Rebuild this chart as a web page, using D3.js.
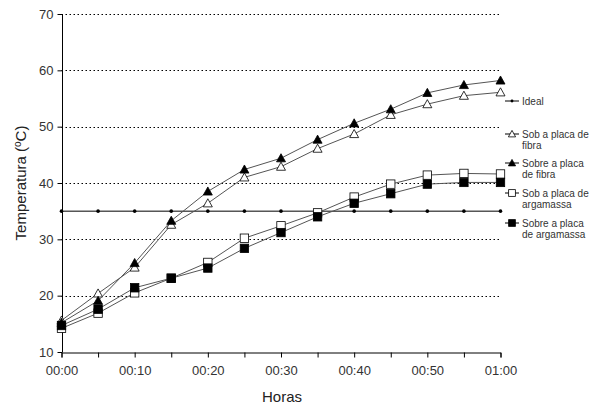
<!DOCTYPE html>
<html>
<head>
<meta charset="utf-8">
<script src="https://cdn.jsdelivr.net/npm/d3@7"></script>
<style>
  body { margin: 0; background: #fff; }
  text { font-family: Arial, "Liberation Sans", sans-serif; }
</style>
</head>
<body>
<div id="chart"></div>
<script>
// times in minutes, labelled hh:mm
var minutes = [0, 5, 10, 15, 20, 25, 30, 35, 40, 45, 50, 55, 60];
var tickMinutes = [0, 10, 20, 30, 40, 50, 60];
var yTicks = [10, 20, 30, 40, 50, 60, 70];

var ideal = [35, 35, 35, 35, 35, 35, 35, 35, 35, 35, 35, 35, 35];
var sobFibra = [15.6, 20.4, 25.0, 32.6, 36.4, 41.0, 42.9, 46.1, 48.7, 52.1, 54.0, 55.5, 56.1];
var sobreFibra = [15.2, 19.1, 25.8, 33.3, 38.5, 42.4, 44.4, 47.7, 50.6, 53.1, 56.0, 57.4, 58.2];
var sobArgamassa = [14.2, 16.9, 20.5, 23.1, 25.9, 30.2, 32.4, 34.7, 37.5, 39.8, 41.4, 41.7, 41.6];
var sobreArgamassa = [14.7, 17.6, 21.4, 23.1, 24.9, 28.4, 31.2, 34.0, 36.4, 38.1, 39.8, 40.1, 40.1];

var seriesNames = ["Ideal", "Sob a placa de fibra", "Sobre a placa de fibra", "Sob a placa de argamassa", "Sobre a placa de argamassa"];
var legendLines = [["Ideal"], ["Sob a placa de", "fibra"], ["Sobre a placa", "de fibra"], ["Sob a placa de", "argamassa"], ["Sobre a placa", "de argamassa"]];

var width = 600, height = 410;
var margin = {left: 61.5, right: 99.5, top: 14, bottom: 58};

var series = [
    {name: seriesNames[0], values: ideal, marker: "dot"},
    {name: seriesNames[1], values: sobFibra, marker: "triOpen"},
    {name: seriesNames[2], values: sobreFibra, marker: "triFill"},
    {name: seriesNames[3], values: sobArgamassa, marker: "sqOpen"},
    {name: seriesNames[4], values: sobreArgamassa, marker: "sqFill"}
];

var svg = d3.select("#chart").append("svg")
    .attr("width", width)
    .attr("height", height);

var x = d3.scaleLinear().domain([0, 60]).range([margin.left, width - margin.right]);
var y = d3.scaleLinear().domain([10, 70]).range([height - margin.bottom, margin.top]);

function fmt(m) {
    var h = Math.floor(m / 60), mm = m % 60;
    return (h < 10 ? "0" : "") + h + ":" + (mm < 10 ? "0" : "") + mm;
}

// dotted grid
svg.append("g")
    .selectAll("line")
    .data(yTicks.slice(1))
    .enter()
    .append("line")
    .attr("x1", x(0))
    .attr("x2", x(60))
    .attr("y1", function (d) { return Math.round(y(d)) + 0.5; })
    .attr("y2", function (d) { return Math.round(y(d)) + 0.5; })
    .attr("stroke", "#000")
    .attr("stroke-width", 1)
    .attr("stroke-dasharray", "1.5,2.5");

// axes
var xAxis = svg.append("g")
    .attr("transform", "translate(0," + (Math.round(y(10)) + 0.5) + ")")
    .call(d3.axisBottom(x).tickValues(minutes).tickSize(5).tickFormat(function (d) {
        return tickMinutes.indexOf(d) >= 0 ? fmt(d) : "";
    }));
xAxis.select(".domain").attr("stroke", "#000");
xAxis.selectAll(".tick line").attr("stroke", "#000");
xAxis.selectAll(".tick text")
    .attr("font-size", 13)
    .attr("fill", "#333")
    .attr("dy", "1.15em");

var yAxis = svg.append("g")
    .attr("transform", "translate(" + (Math.round(x(0)) + 0.5) + ",0)")
    .call(d3.axisLeft(y).tickValues(yTicks).tickSize(5).tickPadding(4));
yAxis.select(".domain").attr("stroke", "#000").attr("d", "M0," + y(70) + "V" + y(10));
yAxis.selectAll(".tick line").attr("stroke", "#000");
yAxis.selectAll(".tick text")
    .attr("font-size", 13)
    .attr("fill", "#333");

// axis titles
svg.append("text")
    .attr("x", 282)
    .attr("y", 402)
    .attr("text-anchor", "middle")
    .attr("font-size", 15)
    .attr("fill", "#222")
    .text("Horas");

var yTitle = svg.append("text")
    .attr("transform", "translate(26," + y(40) + ") rotate(-90)")
    .attr("text-anchor", "middle")
    .attr("font-size", 15)
    .attr("fill", "#222");
yTitle.append("tspan").text("Temperatura (");
yTitle.append("tspan").attr("font-size", 10).attr("dy", -5).text("o");
yTitle.append("tspan").attr("dy", 5).text("C)");

// markers
function drawMarker(g, type, cx, cy, k) {
    k = k || 1;
    if (type == "dot") {
        g.append("circle").attr("cx", cx).attr("cy", cy).attr("r", 1.8 * k).attr("fill", "#000");
    } else if (type == "triOpen" || type == "triFill") {
        var s = 4.5 * k;
        g.append("path")
            .attr("d", "M" + cx + "," + (cy - s) + "L" + (cx + s) + "," + (cy + s * 0.8) + "L" + (cx - s) + "," + (cy + s * 0.8) + "Z")
            .attr("fill", type == "triFill" ? "#000" : "#fff")
            .attr("stroke", "#000")
            .attr("stroke-width", 0.8);
    } else {
        var h = 4.2 * k;
        g.append("rect")
            .attr("x", cx - h).attr("y", cy - h)
            .attr("width", 2 * h).attr("height", 2 * h)
            .attr("fill", type == "sqFill" ? "#000" : "#fff")
            .attr("stroke", "#000")
            .attr("stroke-width", 0.8);
    }
}

var line = d3.line()
    .x(function (d, i) { return x(minutes[i]); })
    .y(function (d) { return y(d); });

series.forEach(function (s) {
    var g = svg.append("g");
    g.append("path")
        .attr("d", line(s.values))
        .attr("fill", "none")
        .attr("stroke", s.marker == "dot" ? "#000" : "#555")
        .attr("stroke-width", 1);
    s.values.forEach(function (v, i) {
        drawMarker(g, s.marker, x(minutes[i]), y(v));
    });
});

// legend
var legendY = [101, 134, 163, 193, 223];
series.forEach(function (s, i) {
    var g = svg.append("g");
    var ly = legendY[i];
    g.append("line")
        .attr("x1", 505).attr("x2", 519)
        .attr("y1", ly).attr("y2", ly)
        .attr("stroke", "#000").attr("stroke-width", 1);
    drawMarker(g, s.marker, 512, ly, 0.8);
    var t = g.append("text")
        .attr("x", 522)
        .attr("y", ly + 3.5)
        .attr("font-size", 10)
        .attr("fill", "#333");
    legendLines[i].forEach(function (txt, k) {
        t.append("tspan").attr("x", 522).attr("dy", k == 0 ? 0 : 11.5).text(txt);
    });
});
</script>
</body>
</html>
